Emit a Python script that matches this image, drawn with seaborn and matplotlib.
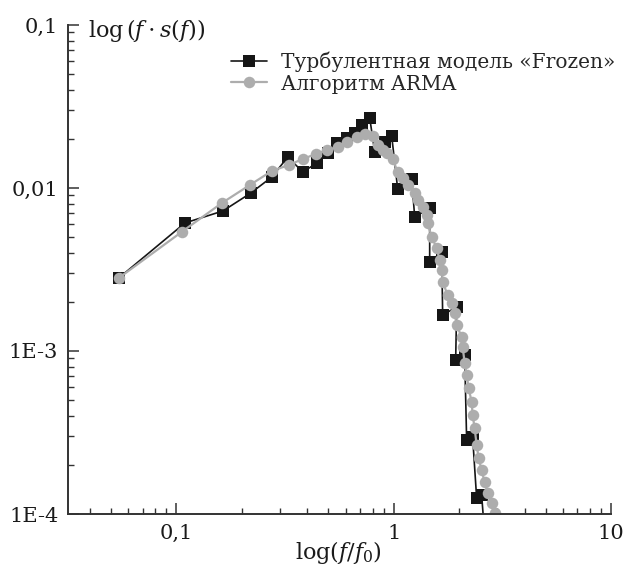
import matplotlib
matplotlib.use("Agg")
import matplotlib.pyplot as plt
import matplotlib.ticker as mticker
import seaborn as sns
import pandas as pd

# turbulent "Frozen" model (black squares)
frozen_f = [0.0544, 0.1094, 0.1637, 0.2201, 0.2748, 0.3256, 0.3816, 0.4426, 0.497,
            0.547, 0.6078, 0.6617, 0.7126, 0.7757, 0.8177, 0.9091, 0.979, 1.043,
            1.21, 1.249, 1.464, 1.464, 1.663, 1.68, 1.949, 1.928, 2.121, 2.166,
            2.308, 2.408, 2.539, 2.677]
frozen_s = [0.00281, 0.0061, 0.00723, 0.00932, 0.01168, 0.0155, 0.01253, 0.01423, 0.0164,
            0.01888, 0.02026, 0.02175, 0.02435, 0.02688, 0.01663, 0.01915, 0.02085, 0.00986,
            0.01135, 0.00664, 0.00754, 0.003516, 0.004049, 0.001663, 0.001862, 0.000881,
            0.000945, 0.000284, 0.000297, 0.0001253, 0.0001308, 0.000052]

# ARMA algorithm (grey circles)
arma_f = [0.0544, 0.1056, 0.1619, 0.2177, 0.2748, 0.3291, 0.3816, 0.4379, 0.492, 0.5528,
          0.6078, 0.6759, 0.7357, 0.8005, 0.8441, 0.8901, 0.9286, 0.9895, 1.043, 1.1,
          1.16, 1.249, 1.289, 1.359, 1.418, 1.433, 1.495, 1.577, 1.627, 1.663, 1.68,
          1.771, 1.848, 1.908, 1.949, 2.054, 2.076, 2.121, 2.166, 2.212, 2.284, 2.308,
          2.357, 2.408, 2.459, 2.539, 2.62, 2.705, 2.822, 2.912, 3.04]
arma_s = [0.00281, 0.00537, 0.00809, 0.01043, 0.01272, 0.01384, 0.01506, 0.01616, 0.0171,
          0.01784, 0.01915, 0.02055, 0.02145, 0.02085, 0.01835, 0.0171, 0.0164, 0.01506,
          0.01253, 0.01151, 0.01043, 0.00932, 0.00844, 0.00765, 0.00683, 0.0061, 0.005005,
          0.004283, 0.003617, 0.003141, 0.002651, 0.002206, 0.00197, 0.00171, 0.001443,
          0.001219, 0.001058, 0.000844, 0.000713, 0.000593, 0.000487, 0.000405, 0.000337,
          0.000265, 0.000221, 0.000186, 0.000157, 0.0001345, 0.0001168, 0.0001014, 0.0000856]

labels = ["Турбулентная модель «Frozen»", "Алгоритм ARMA"]
ytick_vals = [1e-4, 1e-3, 1e-2, 1e-1]
ytick_labels = ["1E-4", "1E-3", "0,01", "0,1"]
xtick_vals = [0.1, 1, 10]
xtick_labels = ["0,1", "1", "10"]

sns.set_theme(style="ticks")
plt.rcParams["font.family"] = ["DejaVu Serif"]
plt.rcParams["mathtext.fontset"] = "dejavuserif"

frozen = pd.DataFrame({"f": frozen_f, "s": frozen_s})
arma = pd.DataFrame({"f": arma_f, "s": arma_s})

fig = plt.figure(figsize=(6.24, 5.74), dpi=100)
ax = fig.add_axes([68 / 624, 1 - 514 / 574, (611 - 68) / 624, (514 - 25) / 574])

sns.lineplot(data=frozen, x="f", y="s", ax=ax, sort=False, estimator=None,
             color="#161616", lw=1.2, marker="s", markersize=8.5,
             markeredgewidth=0, label=labels[0])
sns.lineplot(data=arma, x="f", y="s", ax=ax, sort=False, estimator=None,
             color="#adadad", lw=1.6, marker="o", markersize=8.3,
             markeredgewidth=0, label=labels[1])

ax.set_xscale("log")
ax.set_yscale("log")
ax.set_xlim(0.0317, 10)
ax.set_ylim(1e-4, 0.1)

ax.xaxis.set_major_locator(mticker.FixedLocator(xtick_vals))
ax.xaxis.set_major_formatter(mticker.FixedFormatter(xtick_labels))
ax.yaxis.set_major_locator(mticker.FixedLocator(ytick_vals))
ax.yaxis.set_major_formatter(mticker.FixedFormatter(ytick_labels))
ax.xaxis.set_minor_locator(mticker.LogLocator(base=10, subs=range(2, 10), numticks=20))
ax.yaxis.set_minor_locator(mticker.LogLocator(base=10, subs=range(2, 10), numticks=20))
ax.xaxis.set_minor_formatter(mticker.NullFormatter())
ax.yaxis.set_minor_formatter(mticker.NullFormatter())

ax.tick_params(which="major", direction="in", length=8, width=1.1, color="#333333",
               labelsize=15, labelcolor="#1a1a1a", pad=7)
ax.tick_params(which="minor", direction="in", length=4, width=1.0, color="#333333")
for side in ["top", "right"]:
    ax.spines[side].set_visible(False)
for side in ["left", "bottom"]:
    ax.spines[side].set_linewidth(1.4)
    ax.spines[side].set_color("#333333")

ax.set_xlabel("")
ax.set_ylabel("")
fig.text(88 / 624, 1 - 30 / 574, r"$\log\left(f\cdot s(f)\right)$", fontsize=16,
         va="center", ha="left", color="#1a1a1a")
fig.text(338 / 624, 1 - 553 / 574, r"$\log(f/f_0)$", fontsize=16,
         va="center", ha="center", color="#1a1a1a")

ax.legend(loc="upper left", bbox_to_anchor=(231 / 624, 1 - 52 / 574),
          bbox_transform=fig.transFigure, frameon=False, fontsize=14.5,
          handlelength=1.8, handletextpad=0.7, labelspacing=0.1,
          borderpad=0, borderaxespad=0)

fig.savefig("out.png", dpi=100, facecolor="white")
